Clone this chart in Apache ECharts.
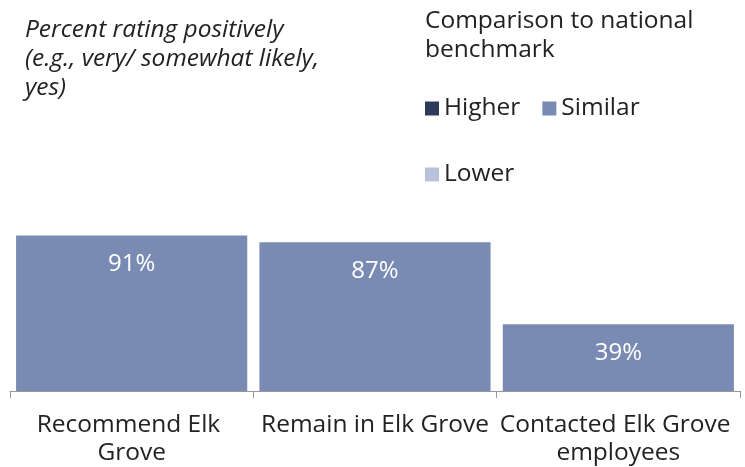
<!DOCTYPE html>
<html>
<head>
<meta charset="utf-8">
<script src="https://cdn.jsdelivr.net/npm/echarts@6/dist/echarts.min.js"></script>
<style>
  html, body { margin: 0; padding: 0; background: #fff; }
  #chart { width: 745px; height: 467px; }
</style>
</head>
<body>
<div id="chart"></div>
<script>
  var categories = ['Recommend Elk Grove', 'Remain in Elk Grove', 'Contacted Elk Grove employees']
  var higherValues = [null, null, null]
  var similarValues = [91, 87, 39]
  var lowerValues = [null, null, null]

  var font = 'Open Sans'
  var textSize = 24.5
  var chart = echarts.init(document.getElementById('chart'))

  function barSeries(name, color, data) {
    return {
      name: name,
      type: 'bar',
      stack: 'all',
      barCategoryGap: '5%',
      itemStyle: { color: color },
      label: {
        show: true,
        position: 'insideTop',
        distance: 17,
        color: '#fff',
        fontFamily: font,
        fontSize: 24,
        formatter: '{c}%'
      },
      data: data
    }
  }

  chart.setOption({
    animation: false,
    backgroundColor: '#fff',
    title: [{
      text: 'Percent rating positively\n(e.g., very/ somewhat likely,\nyes)',
      left: 25,
      top: 16,
      padding: 0,
      textStyle: {
        fontFamily: font,
        fontStyle: 'italic',
        fontWeight: 'normal',
        fontSize: textSize,
        lineHeight: 29,
        color: '#222'
      }
    }, {
      text: 'Comparison to national\nbenchmark',
      left: 425,
      top: 7,
      padding: 0,
      textStyle: {
        fontFamily: font,
        fontWeight: 'normal',
        fontSize: textSize,
        lineHeight: 29,
        color: '#222'
      }
    }],
    legend: [{
      data: ['Higher', 'Similar'],
      left: 425,
      top: 96,
      padding: 0,
      icon: 'rect',
      itemWidth: 14,
      itemHeight: 14,
      itemGap: 22,
      textStyle: { fontFamily: font, fontSize: textSize, color: '#222' }
    }, {
      data: ['Lower'],
      left: 425,
      top: 162,
      padding: 0,
      icon: 'rect',
      itemWidth: 14,
      itemHeight: 14,
      textStyle: { fontFamily: font, fontSize: textSize, color: '#222' }
    }],
    grid: {
      left: 10,
      right: 5,
      top: 220,
      bottom: 72,
      containLabel: false
    },
    xAxis: {
      type: 'category',
      data: categories,
      axisLine: { lineStyle: { color: '#999', width: 1 } },
      axisTick: { show: true, length: 7, lineStyle: { color: '#999' } },
      axisLabel: {
        interval: 0,
        margin: 20,
        color: '#222',
        fontFamily: font,
        fontSize: textSize,
        lineHeight: 28,
        width: 240,
        overflow: 'break'
      }
    },
    yAxis: {
      type: 'value',
      min: 0,
      max: 100,
      show: false,
      splitLine: { show: false }
    },
    series: [
      barSeries('Higher', '#2e3b58', higherValues),
      barSeries('Similar', '#7a8bb3', similarValues),
      barSeries('Lower', '#b8c3da', lowerValues)
    ]
  })
</script>
</body>
</html>
